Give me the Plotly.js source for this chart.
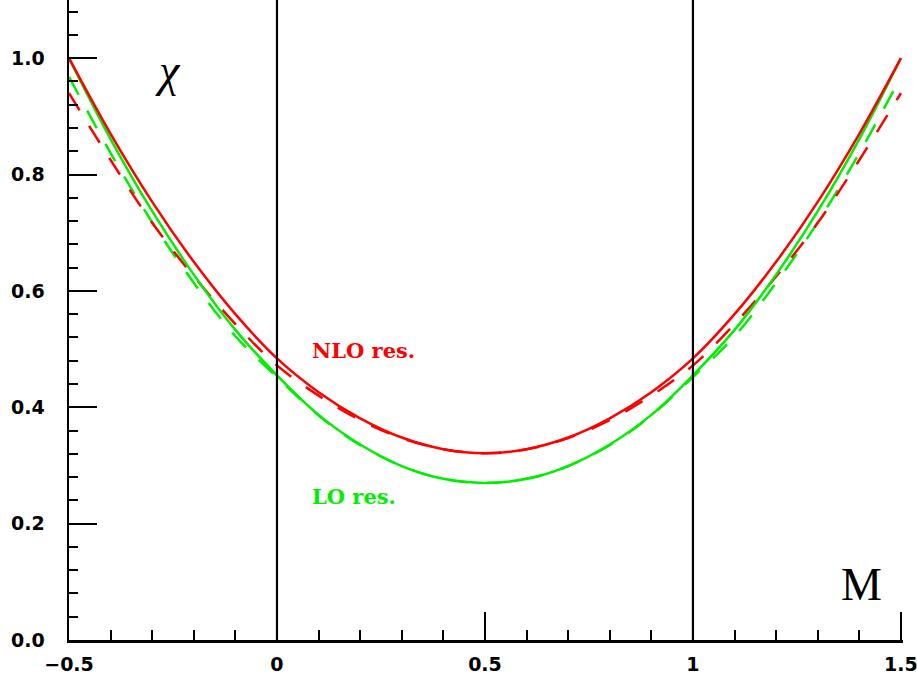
<!DOCTYPE html>
<html>
<head>
<meta charset="utf-8">
<script src="https://cdn.plot.ly/plotly-3.0.1.min.js"></script>
<style>
html,body{margin:0;padding:0;background:#fff;}
#chart{width:917px;height:682px;}
</style>
</head>
<body>
<div id="chart"></div>
<script>
// M values (x axis)
const mValues = [-0.5,-0.4,-0.3,-0.2,-0.1,0.0,0.1,0.2,0.3,0.4,0.5,0.6,0.7,0.8,0.9,1.0,1.1,1.2,1.3,1.4,1.5];
// chi, NLO result (solid red)
const nloSolid = [1.000,0.870,0.753,0.650,0.560,0.484,0.426,0.381,0.348,0.328,0.321,0.328,0.348,0.381,0.426,0.484,0.560,0.650,0.753,0.870,1.000];
// chi, LO result (solid green)
const loSolid  = [1.000,0.861,0.737,0.628,0.533,0.455,0.387,0.336,0.299,0.277,0.270,0.277,0.299,0.336,0.387,0.455,0.533,0.628,0.737,0.861,1.000];
// chi, NLO (dashed red)
const nloDashed = [0.940,0.825,0.717,0.625,0.543,0.472,0.420,0.378,0.347,0.328,0.321,0.328,0.347,0.378,0.420,0.472,0.543,0.625,0.717,0.825,0.940];
// chi, LO (dashed green)
const loDashed  = [0.968,0.837,0.718,0.614,0.522,0.452,0.386,0.335,0.299,0.277,0.270,0.277,0.299,0.335,0.386,0.452,0.522,0.614,0.718,0.837,0.968];
// vertical reference lines
const refLines = [0, 1];
// tick labels
const xTickVals = [-0.5, 0, 0.5, 1, 1.5];
const xTickText = ['\u22120.5', '0', '0.5', '1', '1.5'];
const yTickVals = [0.0, 0.2, 0.4, 0.6, 0.8, 1.0];
const yTickText = ['0.0', '0.2', '0.4', '0.6', '0.8', '1.0'];

const RED = '#ff0000';
const GREEN = '#00ee00';

const traces = [
  {x: mValues, y: loDashed, mode: 'lines', line: {color: GREEN, width: 2.5, dash: '20px,18px', shape: 'spline'}, hoverinfo: 'skip', cliponaxis: false},
  {x: mValues, y: nloDashed, mode: 'lines', line: {color: RED, width: 2.5, dash: '20px,18px', shape: 'spline'}, hoverinfo: 'skip', cliponaxis: false},
  {x: mValues, y: loSolid, mode: 'lines', line: {color: GREEN, width: 2.5, shape: 'spline'}, hoverinfo: 'skip', cliponaxis: false},
  {x: mValues, y: nloSolid, mode: 'lines', line: {color: RED, width: 2.5, shape: 'spline'}, hoverinfo: 'skip', cliponaxis: false}
];

const tickFont = {family: 'DejaVu Sans', size: 19, color: '#000', weight: 'bold'};

const layout = {
  width: 917, height: 682,
  margin: {l: 69, r: 14, t: 0, b: 42},
  paper_bgcolor: '#fff', plot_bgcolor: '#fff',
  showlegend: false,
  xaxis: {
    range: [-0.5, 1.505], showgrid: false, zeroline: false,
    showline: true, linecolor: '#000', linewidth: 2.5,
    ticks: 'inside', ticklen: 28, tickwidth: 2, tickcolor: '#000',
    tickvals: xTickVals, ticktext: xTickText, tickfont: tickFont,
    ticklabelstandoff: 6, ticklabeloverflow: 'allow',
    minor: {dtick: 0.1, tick0: 0, ticks: 'inside', ticklen: 10, tickwidth: 2, tickcolor: '#000', showgrid: false}
  },
  yaxis: {
    range: [0, 1.1], showgrid: false, zeroline: false,
    showline: true, linecolor: '#000', linewidth: 2.5,
    ticks: 'inside', ticklen: 28, tickwidth: 2, tickcolor: '#000',
    tickvals: yTickVals, ticktext: yTickText, tickfont: tickFont,
    ticklabelstandoff: 18, ticklabeloverflow: 'allow',
    minor: {dtick: 0.04, tick0: 0, ticks: 'inside', ticklen: 9, tickwidth: 2, tickcolor: '#000', showgrid: false}
  },
  shapes: refLines.map(v => ({type: 'line', xref: 'x', yref: 'paper', x0: v, x1: v, y0: 0, y1: 1, line: {color: '#000', width: 2.2}})),
  annotations: [
    {text: '\u03c7', xref: 'paper', yref: 'paper', x: 0.119, y: 0.89, xanchor: 'center', yanchor: 'middle', showarrow: false,
     font: {family: 'Liberation Serif', size: 46, color: '#000', style: 'italic'}},
    {text: 'M', xref: 'paper', yref: 'paper', x: 0.950, y: 0.0875, xanchor: 'center', yanchor: 'middle', showarrow: false,
     font: {family: 'Liberation Serif', size: 46, color: '#000'}},
    {text: 'NLO res.', xref: 'paper', yref: 'paper', x: 0.289, y: 0.4516, xanchor: 'left', yanchor: 'middle', showarrow: false,
     font: {family: 'DejaVu Serif', size: 21, color: RED, weight: 'bold'}},
    {text: 'LO res.', xref: 'paper', yref: 'paper', x: 0.289, y: 0.225, xanchor: 'left', yanchor: 'middle', showarrow: false,
     font: {family: 'DejaVu Serif', size: 21, color: GREEN, weight: 'bold'}}
  ]
};

Plotly.newPlot('chart', traces, layout, {displayModeBar: false, staticPlot: true});
</script>
</body>
</html>
